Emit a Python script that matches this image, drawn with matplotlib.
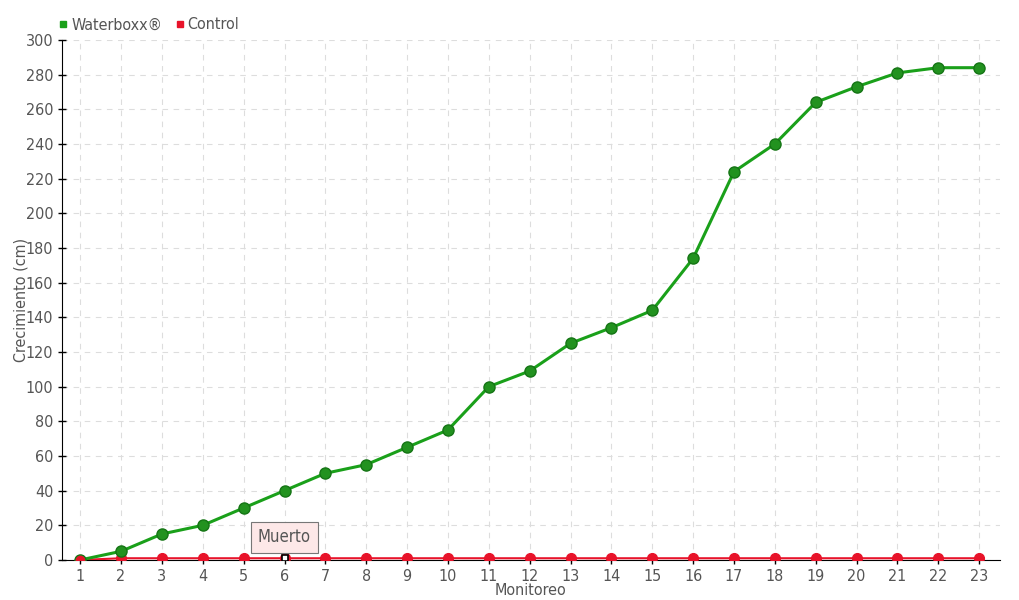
import matplotlib
matplotlib.use("Agg")
import matplotlib.pyplot as plt
from matplotlib.lines import Line2D

monitoreo = list(range(1, 24))
waterboxx = [0, 5, 15, 20, 30, 40, 50, 55, 65, 75, 100, 109, 125, 134, 144,
             174, 224, 240, 264, 273, 281, 284, 284]
control = [0] + [1] * 22
yticks = list(range(0, 301, 20))

plt.rcParams['font.family'] = ['DejaVu Sans']
plt.rcParams['font.stretch'] = 'condensed'
txt = '#555555'

fig = plt.figure(figsize=(10.2, 6), dpi=100)
ax = fig.add_axes([0.061, 0.0667, 0.919, 0.8667])

ax.plot(monitoreo, control, color='#e8132a', lw=1.5, marker='o', ms=7,
        mfc='#e8132a', mec='#e8132a', zorder=3)
ax.plot(monitoreo, waterboxx, color='#1aa01a', lw=2.2, marker='o', ms=8,
        mfc='#22921f', mec='#157515', mew=1, zorder=4)
# primer punto del control encima
ax.plot(monitoreo[0], control[0], 'o', ms=6, color='#e8132a', zorder=5)

# marcador "Muerto"
ax.plot(6, control[5], 's', ms=5, mfc='white', mec='black', mew=1.2, zorder=6)
ax.annotate('Muerto', xy=(6, control[5]), xytext=(6, 13), ha='center', va='center',
            fontsize=12, color=txt,
            bbox=dict(boxstyle='square,pad=0.4', fc='#fde8e8', ec='#777777', lw=0.8),
            zorder=7)

ax.set_xlim(0.56, 23.5)
ax.set_ylim(0, 300)
ax.set_xticks(monitoreo)
ax.set_yticks(yticks)
ax.tick_params(axis='both', labelsize=11.5, colors='black', labelcolor=txt,
               direction='inout', length=6, width=1)
ax.grid(True, ls=(0, (5, 5)), color='#dddddd', lw=0.8)
ax.set_axisbelow(True)
for s in ['top', 'right']:
    ax.spines[s].set_visible(False)
ax.set_xlabel('Monitoreo', fontsize=11.5, color=txt, labelpad=-1)
ax.set_ylabel('Crecimiento (cm)', fontsize=11.5, color=txt, labelpad=-2)

handles = [Line2D([], [], ls='', marker='s', ms=5, color='#1aa01a', label='Waterboxx®'),
           Line2D([], [], ls='', marker='s', ms=5, color='#e8132a', label='Control')]
fig.legend(handles=handles, loc='upper left', bbox_to_anchor=(0.04, 0.995), ncol=2,
           frameon=False, fontsize=11.5, labelcolor=txt, handletextpad=0.0,
           columnspacing=0.6, handlelength=1.0)

fig.savefig('out.png', dpi=100)
